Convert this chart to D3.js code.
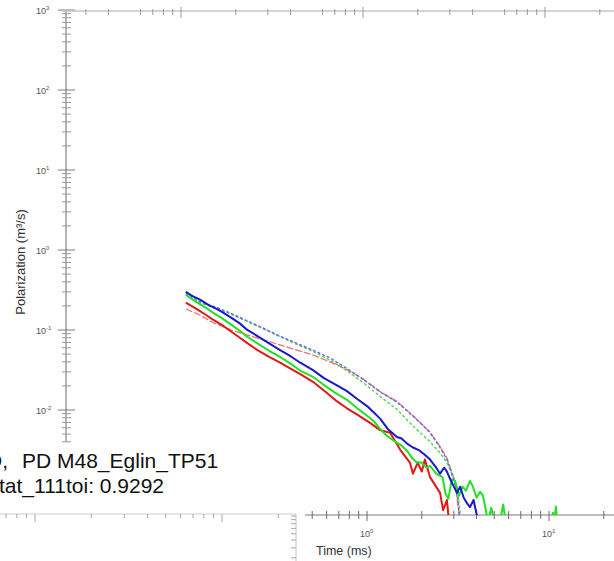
<!DOCTYPE html>
<html>
<head>
<meta charset="utf-8">
<script src="https://cdn.jsdelivr.net/npm/d3@7"></script>
<style>
  body { margin: 0; background: #fff; }
  svg { display: block; font-family: "Liberation Sans", Arial, sans-serif; }
</style>
</head>
<body>
<svg id="chart" width="614" height="561"></svg>
<script>
// Decay curves as [time (ms), polarization (m^3/s)] pairs
const blueSolid = [
  [0.101,0.300],[0.11,0.265],[0.121,0.240],[0.135,0.205],[0.15,0.182],[0.162,0.165],
  [0.18,0.142],[0.2,0.121],[0.219,0.101],[0.25,0.084],[0.29,0.068],[0.333,0.056],
  [0.38,0.047],[0.43,0.039],[0.505,0.0315],[0.58,0.025],[0.68,0.0205],[0.776,0.0172],
  [0.88,0.0138],[1.0,0.0112],[1.08,0.0095],[1.18,0.0078],[1.3,0.0058],[1.46,0.0046],
  [1.55,0.0044],[1.66,0.0038],[1.79,0.0034],[1.95,0.0031],[2.1,0.0027],[2.22,0.0024],
  [2.4,0.0019],[2.52,0.0016],[2.65,0.0019],[2.75,0.0017],[2.85,0.0014],[3.0,0.0011],
  [3.12,0.00092],[3.25,0.0011],[3.4,0.0008],[3.55,0.00068],[3.68,0.00061],[3.85,0.00075],
  [4.0,0.0005],[4.2,0.0004]
];
const greenSolid = [
  [0.101,0.276],[0.115,0.225],[0.13,0.19],[0.1425,0.165],[0.16,0.14],[0.18,0.116],
  [0.2,0.098],[0.219,0.083],[0.25,0.068],[0.29,0.055],[0.333,0.046],[0.38,0.038],
  [0.43,0.031],[0.505,0.026],[0.58,0.0205],[0.68,0.016],[0.776,0.0134],[0.88,0.0106],
  [0.98,0.0088],[1.08,0.0074],[1.18,0.0058],[1.28,0.0048],[1.39,0.0042],[1.52,0.0037],
  [1.66,0.0031],[1.77,0.0025],[1.88,0.0022],[2.0,0.0022],[2.12,0.0019],[2.22,0.0020],
  [2.4,0.0016],[2.6,0.00145],[2.7,0.0009],[2.8,0.00078],[2.92,0.00135],[3.05,0.0013],
  [3.2,0.00085],[3.35,0.0011],[3.5,0.00098],[3.68,0.0013],[3.82,0.0011],[4.0,0.0008],
  [4.18,0.00095],[4.34,0.00085],[4.5,0.00055],[4.62,0.0004],[4.82,0.0006],[5.0,0.0004],
  [5.4,0.00042],[5.6,0.00066],[5.78,0.0004],[6.2,0.0004],[6.5,0.00048],[6.7,0.0004],
  [10.3,0.0004],[10.5,0.00052],[10.7,0.0004],[10.9,0.00062],[11.1,0.0004]
];
const redSolid = [
  [0.101,0.220],[0.115,0.185],[0.13,0.155],[0.1425,0.135],[0.16,0.115],[0.18,0.095],
  [0.2,0.080],[0.219,0.069],[0.25,0.056],[0.29,0.046],[0.333,0.039],[0.38,0.033],
  [0.43,0.028],[0.505,0.0225],[0.58,0.0175],[0.685,0.0128],[0.776,0.0105],[0.88,0.0088],
  [1.04,0.0069],[1.18,0.0056],[1.34,0.0052],[1.52,0.0032],[1.72,0.0022],[1.79,0.0016],
  [1.9,0.0022],[2.0,0.0017],[2.08,0.0024],[2.22,0.00145],[2.52,0.00092],[2.62,0.00056],
  [2.75,0.00075],[2.82,0.0004]
];
const blueDashed = [
  [0.101,0.295],[0.121,0.226],[0.15,0.19],[0.177,0.163],[0.22,0.13],[0.268,0.106],
  [0.33,0.084],[0.412,0.068],[0.505,0.056],[0.626,0.0447],[0.776,0.033],[0.951,0.0242],
  [1.18,0.0168],[1.46,0.0126],[1.79,0.0084],[2.0,0.0066],[2.22,0.0052],[2.52,0.0034],
  [2.75,0.0024],[2.9,0.0017],[3.04,0.0012],[3.15,0.0008],[3.24,0.0004]
];
const greenDashed = [
  [0.101,0.28],[0.121,0.22],[0.177,0.160],[0.268,0.104],[0.412,0.066],[0.505,0.054],
  [0.626,0.042],[0.776,0.031],[0.951,0.022],[1.18,0.0148],[1.46,0.0102],[1.79,0.0063],
  [2.22,0.0040],[2.52,0.0029],[2.75,0.0022],[3.0,0.0014],[3.12,0.0011],[3.3,0.0004]
];
const redDashed = [
  [0.101,0.183],[0.12,0.155],[0.1425,0.124],[0.18,0.100],[0.219,0.087],[0.27,0.075],
  [0.333,0.065],[0.412,0.056],[0.505,0.0487],[0.626,0.040],[0.776,0.032],[0.951,0.0245],
  [1.18,0.0170],[1.46,0.0128],[1.79,0.0085],[2.22,0.0053],[2.52,0.0035],[2.75,0.0025],
  [3.04,0.0013],[3.24,0.0004]
];

const yTickExponents = ["3","2","1","0","-1","-2"];
const xTickExponents = ["0","1"];
const titleLines = ["D, ", "PD M48_Eglin_TP51", "Stat_111toi: 0.9292"];
const yLabel = "Polarization (m³/s)";
const xLabel = "Time (ms)";

const svg = d3.select("#chart");

// Main log-log scales
const x = d3.scaleLog().domain([1, 10]).range([367, 549]);
const y = d3.scaleLog().domain([1, 0.01]).range([250, 410]);
// Neighbouring panel axes along the lower edge
const xLow = d3.scaleLog().domain([1, 10]).range([35, 222]);
const yLow = d3.scaleLog().domain([10, 1]).range([516, 596]);

const log10 = v => Math.log10(v);
const isPow10 = v => Math.abs(log10(v) - Math.round(log10(v))) < 1e-6;
const mantissa = v => Math.round(v / Math.pow(10, Math.floor(log10(v) + 1e-9)));

// ---- left (Y) axis ----
const yAxis = svg.append("g");
yAxis.append("line").attr("x1", 66).attr("x2", 66)
  .attr("y1", y(1000)).attr("y2", y(0.004))
  .attr("stroke", "#b4b4b4").attr("stroke-width", 2);
yAxis.selectAll("line.tick")
  .data(d3.scaleLog().domain([0.004, 1000]).ticks())
  .join("line").attr("class", "tick")
  .attr("x1", d => isPow10(d) ? 58 : 62)
  .attr("x2", d => isPow10(d) ? 75 : 71)
  .attr("y1", d => y(d)).attr("y2", d => y(d))
  .attr("stroke", d => isPow10(d) ? "#7a7a7a" : "#999").attr("stroke-width", 1);
const yLabels = yAxis.selectAll("text.lab")
  .data(yTickExponents)
  .join("text").attr("class", "lab")
  .attr("x", 36).attr("y", d => y(Math.pow(10, +d)) + 4)
  .attr("font-size", 9).attr("fill", "#555");
yLabels.append("tspan").text("10");
yLabels.append("tspan").attr("dy", -4).attr("font-size", 6).text(d => d);

svg.append("text")
  .attr("transform", "translate(25,262) rotate(-90)")
  .attr("text-anchor", "middle").attr("font-size", 13).attr("fill", "#333")
  .text(yLabel);

// ---- top axis (sits a few pixels left of the time scale) ----
const topAxis = svg.append("g");
topAxis.append("line").attr("x1", 62).attr("x2", 614).attr("y1", 11).attr("y2", 11)
  .attr("stroke", "#c4c4c4").attr("stroke-width", 1.5);
topAxis.selectAll("line.tick")
  .data(d3.scaleLog().domain([0.028, x.invert(618)]).ticks().filter(d => mantissa(d) !== 5))
  .join("line").attr("class", "tick")
  .attr("x1", d => x(d) - 4).attr("x2", d => x(d) - 4)
  .attr("y1", d => isPow10(d) ? 7 : 9).attr("y2", d => isPow10(d) ? 18 : 15)
  .attr("stroke", "#9a9a9a").attr("stroke-width", 1);

// ---- bottom time axis ----
const xAxis = svg.append("g");
xAxis.append("line").attr("x1", 305).attr("x2", 614).attr("y1", 515).attr("y2", 515)
  .attr("stroke", "#7a7a7a").attr("stroke-width", 1.2);
xAxis.selectAll("line.tick")
  .data(d3.scaleLog().domain([x.invert(306), x.invert(614)]).ticks())
  .join("line").attr("class", "tick")
  .attr("x1", d => x(d)).attr("x2", d => x(d))
  .attr("y1", 511).attr("y2", d => isPow10(d) ? 521 : 519)
  .attr("stroke", "#6a6a6a").attr("stroke-width", 1);
const xLabels = xAxis.selectAll("text.lab")
  .data(xTickExponents)
  .join("text").attr("class", "lab")
  .attr("x", d => x(Math.pow(10, +d)) - 7).attr("y", 537)
  .attr("font-size", 9).attr("fill", "#555");
xLabels.append("tspan").text("10");
xLabels.append("tspan").attr("dy", -4).attr("font-size", 6).text(d => d);
svg.append("text").attr("x", 316).attr("y", 555)
  .attr("font-size", 12.5).attr("fill", "#333").text(xLabel);

// ---- neighbouring panel axes (lower left) ----
const lowAxis = svg.append("g");
lowAxis.append("line").attr("x1", 0).attr("x2", 296).attr("y1", 514).attr("y2", 514)
  .attr("stroke", "#cfcfcf").attr("stroke-width", 1.2);
lowAxis.selectAll("line.htick")
  .data(d3.scaleLog().domain([xLow.invert(0), xLow.invert(290)]).ticks())
  .join("line").attr("class", "htick")
  .attr("x1", d => xLow(d)).attr("x2", d => xLow(d))
  .attr("y1", 514).attr("y2", d => isPow10(d) ? 522 : 518)
  .attr("stroke", "#a8a8a8").attr("stroke-width", 1);
lowAxis.append("line").attr("x1", 296).attr("x2", 296).attr("y1", 514).attr("y2", 561)
  .attr("stroke", "#cfcfcf").attr("stroke-width", 1.2);
lowAxis.selectAll("line.vtick")
  .data(d3.scaleLog().domain([yLow.invert(561), yLow.invert(516)]).ticks())
  .join("line").attr("class", "vtick")
  .attr("x1", 291).attr("x2", 296)
  .attr("y1", d => yLow(d)).attr("y2", d => yLow(d))
  .attr("stroke", "#a8a8a8").attr("stroke-width", 1);

// ---- curves ----
svg.append("clipPath").attr("id", "plotClip")
  .append("rect").attr("x", 66).attr("y", 11).attr("width", 548).attr("height", 504);
const plot = svg.append("g").attr("clip-path", "url(#plotClip)");
const line = d3.line().x(d => x(d[0])).y(d => y(d[1]));

const curves = [
  { data: redDashed,   color: "#f07070", width: 1.3, dash: "7,2" },
  { data: greenDashed, color: "#4fd84f", width: 1.4, dash: "3,2" },
  { data: blueDashed,  color: "#6b6be8", width: 1.5, dash: "3,2" },
  { data: redSolid,    color: "#e01818", width: 2,   dash: null },
  { data: greenSolid,  color: "#22e022", width: 2,   dash: null },
  { data: blueSolid,   color: "#1818cc", width: 2,   dash: null }
];
plot.selectAll("path.curve")
  .data(curves)
  .join("path").attr("class", "curve")
  .attr("d", d => line(d.data))
  .attr("fill", "none")
  .attr("stroke", d => d.color)
  .attr("stroke-width", d => d.width)
  .attr("stroke-dasharray", d => d.dash)
  .attr("stroke-linejoin", "round");

// ---- run caption ----
const cap = svg.append("g").attr("font-size", 21).attr("fill", "#111");
cap.append("text").attr("x", -13).attr("y", 468).text(titleLines[0]);
cap.append("text").attr("x", 22).attr("y", 468).text(titleLines[1]);
cap.append("text").attr("x", -15).attr("y", 493).text(titleLines[2]);
</script>
</body>
</html>
